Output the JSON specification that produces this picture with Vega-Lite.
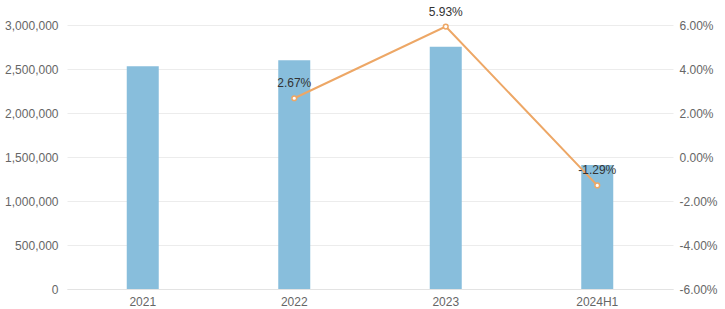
{
  "$schema": "https://vega.github.io/schema/vega-lite/v6.json",
  "width": 606,
  "height": 264,
  "autosize": "none",
  "padding": {"left": 67, "top": 25, "right": 52, "bottom": 20},
  "data": {
    "values": [
      {"year": "2021", "value": 2532000, "growth": null},
      {"year": "2022", "value": 2599000, "growth": 0.0267},
      {"year": "2023", "value": 2753000, "growth": 0.0593},
      {"year": "2024H1", "value": 1410000, "growth": -0.0129}
    ]
  },
  "encoding": {
    "x": {
      "field": "year",
      "type": "ordinal",
      "sort": null,
      "scale": {"paddingInner": 0, "paddingOuter": 0},
      "axis": {
        "title": null,
        "labelAngle": 0,
        "ticks": false,
        "domain": true,
        "domainColor": "#e3e3e3",
        "labelPadding": 7,
        "grid": false
      }
    }
  },
  "layer": [
    {
      "mark": {"type": "bar", "size": 32, "color": "#88BEDC"},
      "encoding": {
        "y": {
          "field": "value",
          "type": "quantitative",
          "scale": {"domain": [0, 3000000], "nice": false},
          "axis": {
            "orient": "left",
            "title": null,
            "values": [0, 500000, 1000000, 1500000, 2000000, 2500000, 3000000],
            "format": ",.0f",
            "grid": true,
            "gridColor": "#ececec",
            "domain": false,
            "ticks": false,
            "labelPadding": 9
          }
        }
      }
    },
    {
      "transform": [{"filter": "datum.growth != null"}],
      "encoding": {
        "y": {
          "field": "growth",
          "type": "quantitative",
          "scale": {"domain": [-0.06, 0.06], "nice": false},
          "axis": {
            "orient": "right",
            "title": null,
            "values": [-0.06, -0.04, -0.02, 0, 0.02, 0.04, 0.06],
            "format": ".2%",
            "grid": false,
            "domain": false,
            "ticks": false,
            "labelPadding": 6
          }
        }
      },
      "layer": [
        {"mark": {"type": "line", "color": "#EDA766", "strokeWidth": 2}},
        {"mark": {"type": "point", "filled": true, "fill": "#ffffff", "stroke": "#EDA766", "strokeWidth": 1.5, "size": 22, "opacity": 1}},
        {
          "mark": {"type": "text", "dy": -15, "fontSize": 12, "color": "#333333", "font": "Liberation Sans"},
          "encoding": {"text": {"field": "growth", "type": "quantitative", "format": ".2%"}}
        }
      ]
    }
  ],
  "resolve": {"scale": {"y": "independent"}},
  "config": {
    "view": {"stroke": null},
    "locale": {"number": {"decimal": ".", "thousands": ",", "grouping": [3], "currency": ["$", ""], "minus": "-"}},
    "axis": {"labelFont": "Liberation Sans", "labelFontSize": 12, "labelColor": "#666666"}
  }
}
